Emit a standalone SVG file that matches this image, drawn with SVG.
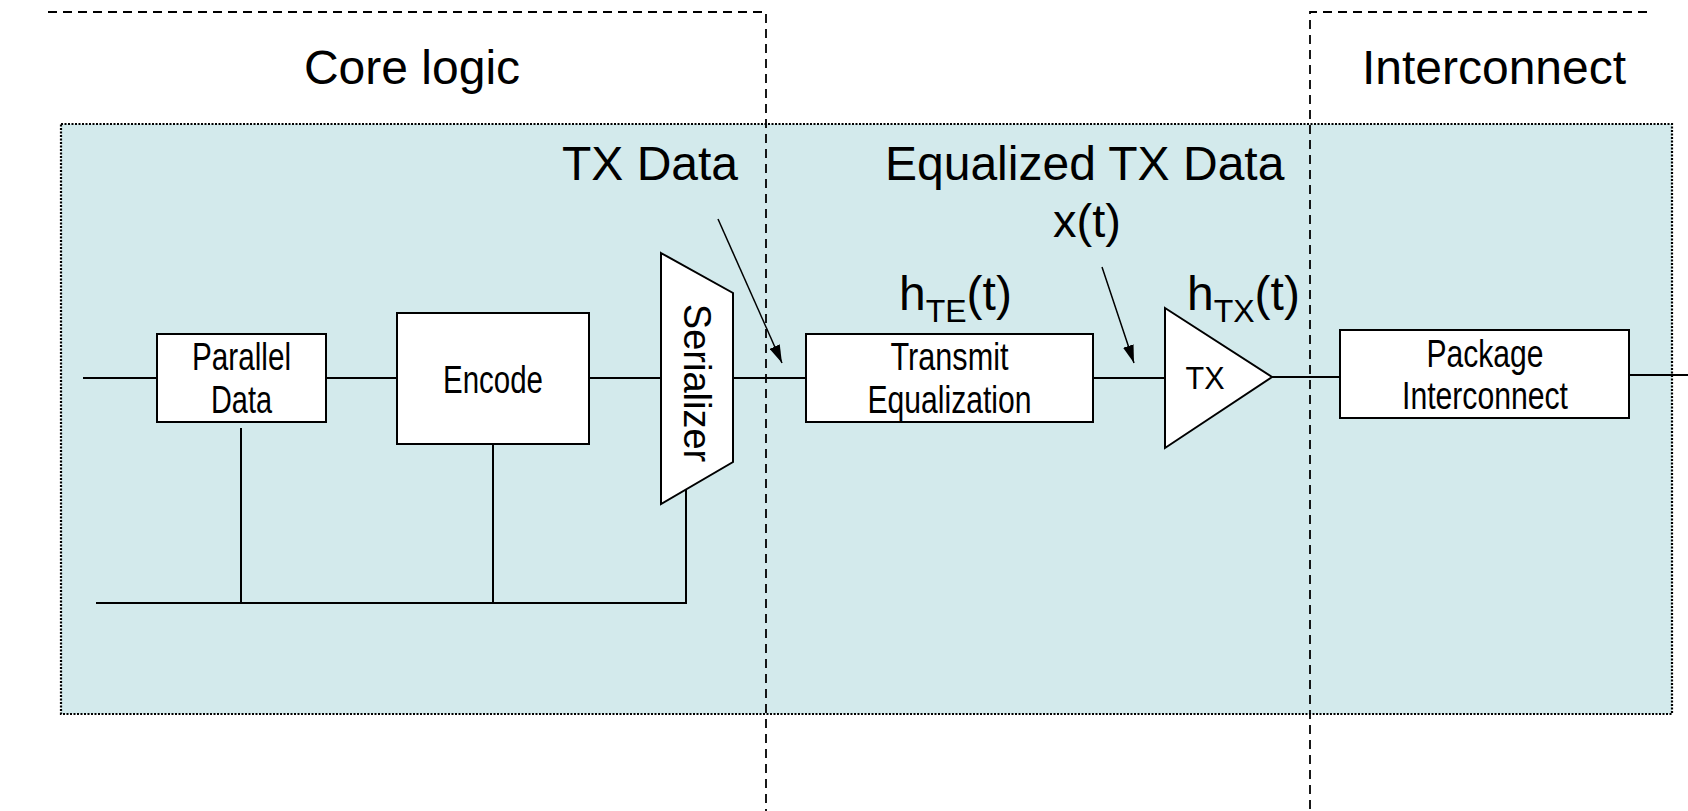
<svg xmlns="http://www.w3.org/2000/svg" width="1688" height="811" viewBox="0 0 1688 811">
  <style>
    text { font-family: "Liberation Sans", Arial, sans-serif; fill: #000; }
    .title { font-size: 48px; }
    .lbl { font-size: 48px; }
    .box { fill: #fff; stroke: #000; stroke-width: 2; }
    .wire { fill: none; stroke: #000; stroke-width: 2; }
    .pointer { fill: none; stroke: #000; stroke-width: 1.5; }
    .bound { fill: none; stroke: #000; stroke-width: 1.8; stroke-dasharray: 9 6; }
    .btxt { font-size: 38px; }
  </style>
  <defs>
    <marker id="arrow" markerUnits="userSpaceOnUse" markerWidth="18" markerHeight="11" viewBox="0 0 18 11" refX="18" refY="5.5" orient="auto">
      <path d="M0,0 L18,5.5 L0,11 z" fill="#000"/>
    </marker>
  </defs>

  <!-- shaded transmitter region -->
  <rect id="region" x="61" y="124" width="1611" height="590" fill="#d3eaec" stroke="#000" stroke-width="2.2" stroke-dasharray="2 1.5"/>

  <!-- domain boundaries -->
  <g id="boundaries">
    <path class="bound" d="M48,12 H766 V811"/>
    <path class="bound" d="M1647,12 H1310 V811"/>
  </g>

  <text class="title" x="412" y="84" text-anchor="middle">Core logic</text>
  <text class="title" x="1494" y="84" text-anchor="middle">Interconnect</text>

  <text class="lbl" x="562" y="180">TX Data</text>
  <text class="lbl" x="885" y="180">Equalized TX Data</text>
  <text x="1087" y="237" text-anchor="middle" style="font-size:47px">x(t)</text>
  <text class="lbl" x="899" y="310">h<tspan style="font-size:32px" dy="12">TE</tspan><tspan dy="-12">(t)</tspan></text>
  <text class="lbl" x="1187" y="310">h<tspan style="font-size:32px" dy="12">TX</tspan><tspan dy="-12">(t)</tspan></text>

  <!-- connectors -->
  <g id="connectors">
    <line class="wire" x1="83" y1="378" x2="157" y2="378"/>
    <line class="wire" x1="326" y1="378" x2="397" y2="378"/>
    <line class="wire" x1="589" y1="378" x2="661" y2="378"/>
    <line class="wire" x1="733" y1="378" x2="806" y2="378"/>
    <line class="wire" x1="1093" y1="378" x2="1165" y2="378"/>
    <line class="wire" x1="1272" y1="377" x2="1340" y2="377"/>
    <line class="wire" x1="1629" y1="375" x2="1688" y2="375"/>
    <path class="wire" d="M96,603 H686 V489"/>
    <line class="wire" x1="241" y1="428" x2="241" y2="603"/>
    <line class="wire" x1="493" y1="444" x2="493" y2="603"/>
    <line class="pointer" x1="718" y1="219" x2="782" y2="363" marker-end="url(#arrow)"/>
    <line class="pointer" x1="1102" y1="267" x2="1134" y2="363" marker-end="url(#arrow)"/>
  </g>

  <g id="parallel-data">
    <rect class="box" x="157" y="334" width="169" height="88"/>
    <text class="btxt" x="241.5" y="370" text-anchor="middle" textLength="99" lengthAdjust="spacingAndGlyphs">Parallel</text>
    <text class="btxt" x="241.5" y="413" text-anchor="middle" textLength="61" lengthAdjust="spacingAndGlyphs">Data</text>
  </g>

  <g id="encode">
    <rect class="box" x="397" y="313" width="192" height="131"/>
    <text class="btxt" x="493" y="393" text-anchor="middle" textLength="100" lengthAdjust="spacingAndGlyphs">Encode</text>
  </g>

  <g id="serializer">
    <path class="box" d="M661,253 L733,293 L733,462 L661,504 Z"/>
    <text transform="translate(684,383) rotate(90)" text-anchor="middle" style="font-size:38px">Serializer</text>
  </g>

  <g id="transmit-equalization">
    <rect class="box" x="806" y="334" width="287" height="88"/>
    <text class="btxt" x="949.5" y="370" text-anchor="middle" textLength="118" lengthAdjust="spacingAndGlyphs">Transmit</text>
    <text class="btxt" x="949.5" y="413" text-anchor="middle" textLength="164" lengthAdjust="spacingAndGlyphs">Equalization</text>
  </g>

  <g id="tx-driver">
    <path class="box" d="M1165,308 L1272,377 L1165,448 Z"/>
    <text x="1205" y="389" text-anchor="middle" textLength="39" lengthAdjust="spacingAndGlyphs" style="font-size:32px">TX</text>
  </g>

  <g id="package-interconnect">
    <rect class="box" x="1340" y="330" width="289" height="88"/>
    <text class="btxt" x="1485" y="367" text-anchor="middle" textLength="117" lengthAdjust="spacingAndGlyphs">Package</text>
    <text class="btxt" x="1485" y="409" text-anchor="middle" textLength="166" lengthAdjust="spacingAndGlyphs">Interconnect</text>
  </g>
</svg>
